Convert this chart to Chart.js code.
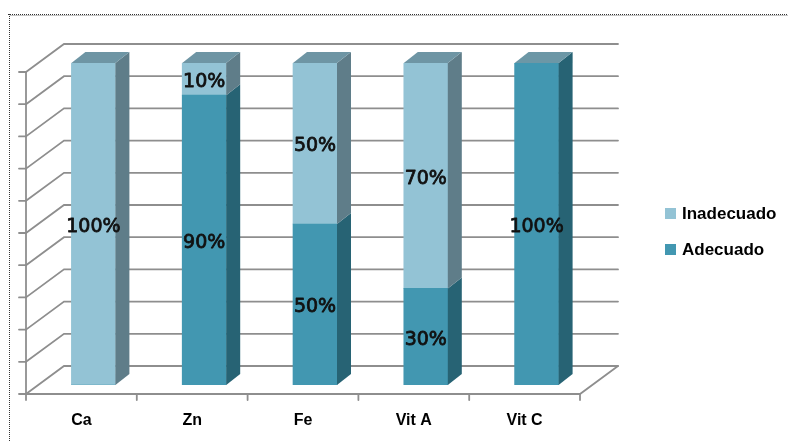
<!DOCTYPE html>
<html>
<head>
<meta charset="utf-8">
<script src="https://cdn.jsdelivr.net/npm/chart.js@4.4.1/dist/chart.umd.min.js"></script>
<style>
  body { margin: 0; background: #fff; }
  #grafico { display: block; }
</style>
</head>
<body>
<canvas id="grafico" width="788" height="441"></canvas>
<script>
// nutrientes y porcentajes
var categorias = ["Ca", "Zn", "Fe", "Vit A", "Vit C"];
var adecuado   = [0, 90, 50, 30, 100];
var inadecuado = [100, 10, 50, 70, 0];
var ticksY = [0, 10, 20, 30, 40, 50, 60, 70, 80, 90, 100];

// colores de cada serie: frente, lateral, tapa
var colAdecuado   = { frente: "#4297b1", lado: "#276374", tapa: "#6c97a6" };
var colInadecuado = { frente: "#93c3d5", lado: "#5f7d89", tapa: "#6e95a4" };

// desplazamientos de profundidad (perspectiva)
var prof = { dx: 14, dy: -11 };      // grosor de la barra
var frente = { dx: -12, dy: 9 };     // plano frontal del piso
var fondo = { dx: 26, dy: -19 };     // pared del fondo

function colorSerie(i) {
  return i == 0 ? colAdecuado : colInadecuado;
}

var paredes = {
  id: "paredes",
  beforeDatasetsDraw: function(chart) {
    var ctx = chart.ctx;
    var area = chart.chartArea;
    var y = chart.scales.y;
    ctx.save();
    ctx.strokeStyle = "#8e8e8e";
    ctx.lineWidth = 1.8;
    ctx.lineCap = "round";
    ticksY.forEach(function(v) {
      var py = y.getPixelForValue(v);
      ctx.beginPath();
      ctx.moveTo(area.left + frente.dx, py + frente.dy);
      ctx.lineTo(area.left + fondo.dx, py + fondo.dy);
      ctx.lineTo(area.right + fondo.dx, py + fondo.dy);
      ctx.stroke();
      // marca del eje vertical
      ctx.beginPath();
      ctx.moveTo(area.left + frente.dx - 7, py + frente.dy);
      ctx.lineTo(area.left + frente.dx, py + frente.dy);
      ctx.stroke();
    });
    var top = y.getPixelForValue(100), base = y.getPixelForValue(0);
    // eje vertical frontal
    ctx.beginPath();
    ctx.moveTo(area.left + frente.dx, top + frente.dy);
    ctx.lineTo(area.left + frente.dx, base + frente.dy);
    ctx.stroke();
    // borde del piso
    ctx.beginPath();
    ctx.moveTo(area.left + frente.dx, base + frente.dy);
    ctx.lineTo(area.right + frente.dx, base + frente.dy);
    ctx.lineTo(area.right + fondo.dx, base + fondo.dy);
    ctx.stroke();
    // marcas del eje de categorías
    var paso = (area.right - area.left) / categorias.length;
    for (var i = 0; i <= categorias.length; i++) {
      var px = area.left + i * paso + frente.dx;
      ctx.beginPath();
      ctx.moveTo(px, base + frente.dy);
      ctx.lineTo(px, base + frente.dy + 6);
      ctx.stroke();
    }
    ctx.restore();
  },
  afterDatasetsDraw: function(chart) {
    var ctx = chart.ctx;
    ctx.save();
    var tope = [];
    chart.data.datasets.forEach(function(ds, d) {
      var meta = chart.getDatasetMeta(d);
      var c = colorSerie(d);
      meta.data.forEach(function(el, i) {
        var t = Math.min(el.y, el.base), b = Math.max(el.y, el.base);
        if (b - t < 0.5) return;
        var r = el.x + el.width / 2, l = el.x - el.width / 2;
        ctx.fillStyle = c.lado;
        ctx.beginPath();
        ctx.moveTo(r, t);
        ctx.lineTo(r + prof.dx, t + prof.dy);
        ctx.lineTo(r + prof.dx, b + prof.dy);
        ctx.lineTo(r, b);
        ctx.closePath();
        ctx.fill();
        tope[i] = { l: l, r: r, t: t, c: c };
      });
    });
    // tapa superior de cada columna
    tope.forEach(function(s) {
      if (!s) return;
      ctx.fillStyle = s.c.tapa;
      ctx.beginPath();
      ctx.moveTo(s.l, s.t);
      ctx.lineTo(s.l + prof.dx, s.t + prof.dy);
      ctx.lineTo(s.r + prof.dx, s.t + prof.dy);
      ctx.lineTo(s.r, s.t);
      ctx.closePath();
      ctx.fill();
    });
    // etiquetas de porcentaje
    ctx.fillStyle = "#111";
    ctx.strokeStyle = "#111";
    ctx.lineWidth = 0.8;
    ctx.lineJoin = "round";
    ctx.font = "19px 'DejaVu Sans'";
    ctx.textAlign = "center";
    ctx.textBaseline = "middle";
    chart.data.datasets.forEach(function(ds, d) {
      var meta = chart.getDatasetMeta(d);
      meta.data.forEach(function(el, i) {
        if (!ds.data[i]) return;
        var ty = (el.y + el.base) / 2 + 3;
        ctx.fillText(ds.data[i] + "%", el.x, ty);
        ctx.strokeText(ds.data[i] + "%", el.x, ty);
      });
    });
    // nombres de categorías
    ctx.font = "bold 16px 'Liberation Sans'";
    ctx.fillStyle = "#000";
    var base = chart.scales.y.getPixelForValue(0);
    categorias.forEach(function(n, i) {
      var px = chart.scales.x.getPixelForValue(i) + frente.dx;
      ctx.fillText(n, px, base + frente.dy + 27);
    });
    // leyenda
    ctx.textAlign = "left";
    ctx.font = "bold 17px 'Liberation Sans'";
    var items = [1, 0];
    items.forEach(function(d, k) {
      var cy = 213 + k * 36;
      ctx.fillStyle = colorSerie(d).frente;
      ctx.fillRect(665, cy - 5, 11, 11);
      ctx.fillStyle = "#000";
      ctx.fillText(chart.data.datasets[d].label, 682, cy + 1);
    });
    // marco punteado
    ctx.lineWidth = 1;
    ctx.strokeStyle = "#c4c4c4";
    ctx.beginPath();
    ctx.moveTo(10, 15.5);
    ctx.lineTo(788, 15.5);
    ctx.stroke();
    ctx.strokeStyle = "#333";
    ctx.setLineDash([1, 1]);
    ctx.beginPath();
    ctx.moveTo(8, 14.5);
    ctx.lineTo(788, 14.5);
    ctx.moveTo(9.5, 14);
    ctx.lineTo(9.5, 441);
    ctx.stroke();
    ctx.restore();
  }
};

const data = {
  labels: categorias,
  datasets: [{
    label: "Adecuado",
    data: adecuado,
    backgroundColor: colAdecuado.frente
  }, {
    label: "Inadecuado",
    data: inadecuado,
    backgroundColor: colInadecuado.frente
  }]
};

const config = {
  type: "bar",
  data: data,
  options: {
    responsive: false,
    animation: false,
    maintainAspectRatio: false,
    layout: { padding: { left: 38, right: 196, top: 63, bottom: 56 } },
    datasets: { bar: { barThickness: 44, borderWidth: 0 } },
    scales: {
      x: { stacked: true, display: false },
      y: { stacked: true, display: false, min: 0, max: 100 }
    },
    plugins: {
      legend: { display: false },
      tooltip: { enabled: false }
    }
  },
  plugins: [paredes]
};

var myChart = new Chart(document.getElementById("grafico"), config);
</script>
</body>
</html>
